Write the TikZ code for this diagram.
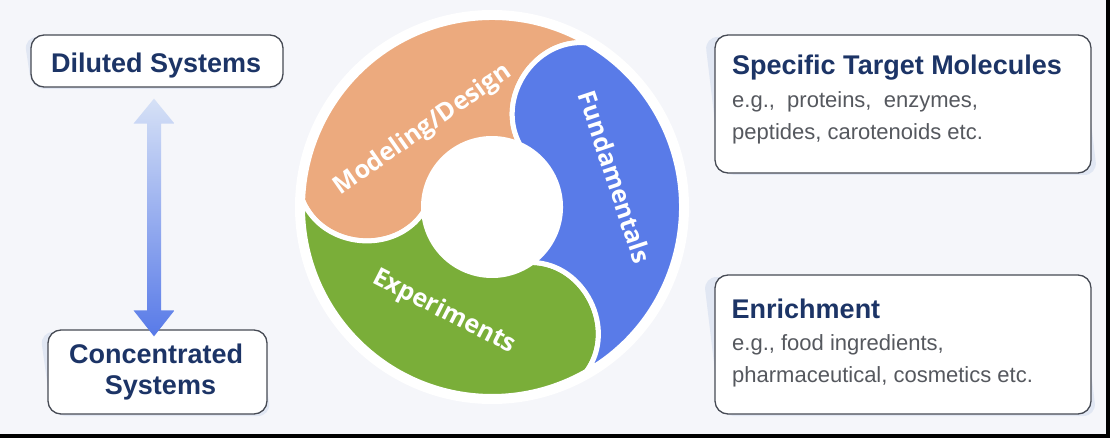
\documentclass[tikz,border=0pt]{standalone}
\usepackage{fontspec}
\setmainfont{Liberation Sans}
\newfontfamily\wheelfont{Open Sans}
\usetikzlibrary{calc}
\definecolor{bgc}{RGB}{245,246,250}
\definecolor{navy}{RGB}{28,52,102}
\definecolor{bodyc}{RGB}{85,88,94}
\definecolor{edgec}{RGB}{70,74,84}
\definecolor{shadowc}{RGB}{225,231,243}
\definecolor{orangec}{RGB}{236,170,126}
\definecolor{bluec}{RGB}{89,123,232}
\definecolor{greenc}{RGB}{122,174,57}
\definecolor{arrowtop}{RGB}{214,225,246}
\definecolor{arrowbot}{RGB}{88,122,232}
\tikzset{
 card/.style={draw=edgec, line width=1.3pt, fill=white, rounded corners=13pt, inner sep=0pt},
 title/.style={font=\fontsize{27}{32}\selectfont\bfseries, text=navy, inner sep=0pt},
 body/.style={font=\fontsize{22}{26}\selectfont, text=bodyc, inner sep=0pt},
 seg/.style={draw=white, line width=5pt, line join=round},
 wlabel/.style={font=\wheelfont\bfseries\fontsize{25}{25}\selectfont, text=white, inner sep=0pt},
 shade box/.style={fill=shadowc, rounded corners=13pt},
}
\newcommand{\boxshade}[6]{%
  \begin{scope}[shift={(#1+#6,#2-2)}, xslant=#5]
    \path[shade box] (-#3/2,-#4/2) rectangle (#3/2,#4/2);
  \end{scope}}
\frenchspacing
\begin{document}
\begin{tikzpicture}[x=1pt,y=1pt]
\fill[bgc] (0,0) rectangle (1110,-438);
\useasboundingbox (0,0) rectangle (1110,-438);
\fill[black] (0,-434) rectangle (1110,-438);
\fill[black] (1106,0) rectangle (1110,-438);

% shadows
\boxshade{157}{-61}{252}{52}{-0.15}{-3}
\boxshade{157.5}{-372}{219}{84}{-0.14}{-2}
\boxshade{903}{-104}{376}{138}{-0.12}{-2}
\boxshade{903}{-344.5}{376}{139}{-0.12}{-3}

% left boxes
\node[card, minimum width=252pt, minimum height=52pt] (dil) at (157,-61) {};
\node[title, anchor=base] (dilt) at (156.2,-72.5) {Diluted Systems};
\node[card, minimum width=219pt, minimum height=84pt] (conc) at (157.5,-372) {};
\node[title, anchor=base] (conct1) at (156.2,-363) {Concentrated};
\node[title, anchor=base] (conct2) at (160.5,-394) {Systems};

% arrow
\coordinate (atop) at ($(dil.south)+(-3,-11)$);
\coordinate (abot) at ($(conc.north)+(-3.5,-7)$);
\shade[top color=arrowtop, bottom color=arrowbot]
  (atop) -- ($(atop)+(20.5,-25)$) -- ($(atop)+(7,-25)$) -- ($(abot)+(7,26)$)
  -- ($(abot)+(20.5,26)$) -- (abot) -- ($(abot)+(-20.5,26)$) -- ($(abot)+(-7,26)$)
  -- ($(atop)+(-7,-25)$) -- ($(atop)+(-20.5,-25)$) -- cycle;

% right boxes
\node[card, minimum width=376pt, minimum height=138pt] (spec) at (903,-104) {};
\node[title, anchor=base west] (spect) at (732,-74.5) {Specific Target Molecules};
\node[body, anchor=base west] (spec1) at (732,-107.5) {e.g.,\ \ proteins,\ \ enzymes,};
\node[body, anchor=base west] (spec2) at (732,-139.5) {peptides, carotenoids etc.};
\node[card, minimum width=376pt, minimum height=139pt] (enr) at (903,-344.5) {};
\node[title, anchor=base west] (enrt) at (731.5,-318) {Enrichment};
\node[body, anchor=base west] (enr1) at (732,-350.7) {e.g., food ingredients,};
\node[body, anchor=base west] (enr2) at (732,-382.7) {pharmaceutical, cosmetics etc.};

% wheel
\begin{scope}[shift={(492,-207)}]
\fill[white] (0,0) circle (197);
\path[seg, fill=orangec] (60:189.5) arc[start angle=60,end angle=178,radius=189.5]
  to[bend right=62, looseness=1.1] (184:68.5) arc[start angle=184,end angle=66,radius=68.5]
  to[bend left=62, looseness=1.1] (60:189.5) -- cycle;
\path[seg, fill=greenc] (178:189.5) arc[start angle=178,end angle=300,radius=189.5]
  to[bend right=62, looseness=1.1] (306:68.5) arc[start angle=306,end angle=184,radius=68.5]
  to[bend left=62, looseness=1.1] (178:189.5) -- cycle;
\path[seg, fill=bluec] (300:189.5) arc[start angle=300,end angle=420,radius=189.5]
  to[bend right=62, looseness=1.1] (426:68.5) arc[start angle=426,end angle=306,radius=68.5]
  to[bend left=62, looseness=1.1] (300:189.5) -- cycle;
\end{scope}
\node[wlabel, rotate=35] (lmod) at (423,-130) {Modeling/Design};
\node[wlabel, rotate=-71.5] (lfun) at (615,-177) {Fundamentals};
\node[wlabel, rotate=-27] (lexp) at (444,-312) {Experiments};
\end{tikzpicture}
\end{document}
